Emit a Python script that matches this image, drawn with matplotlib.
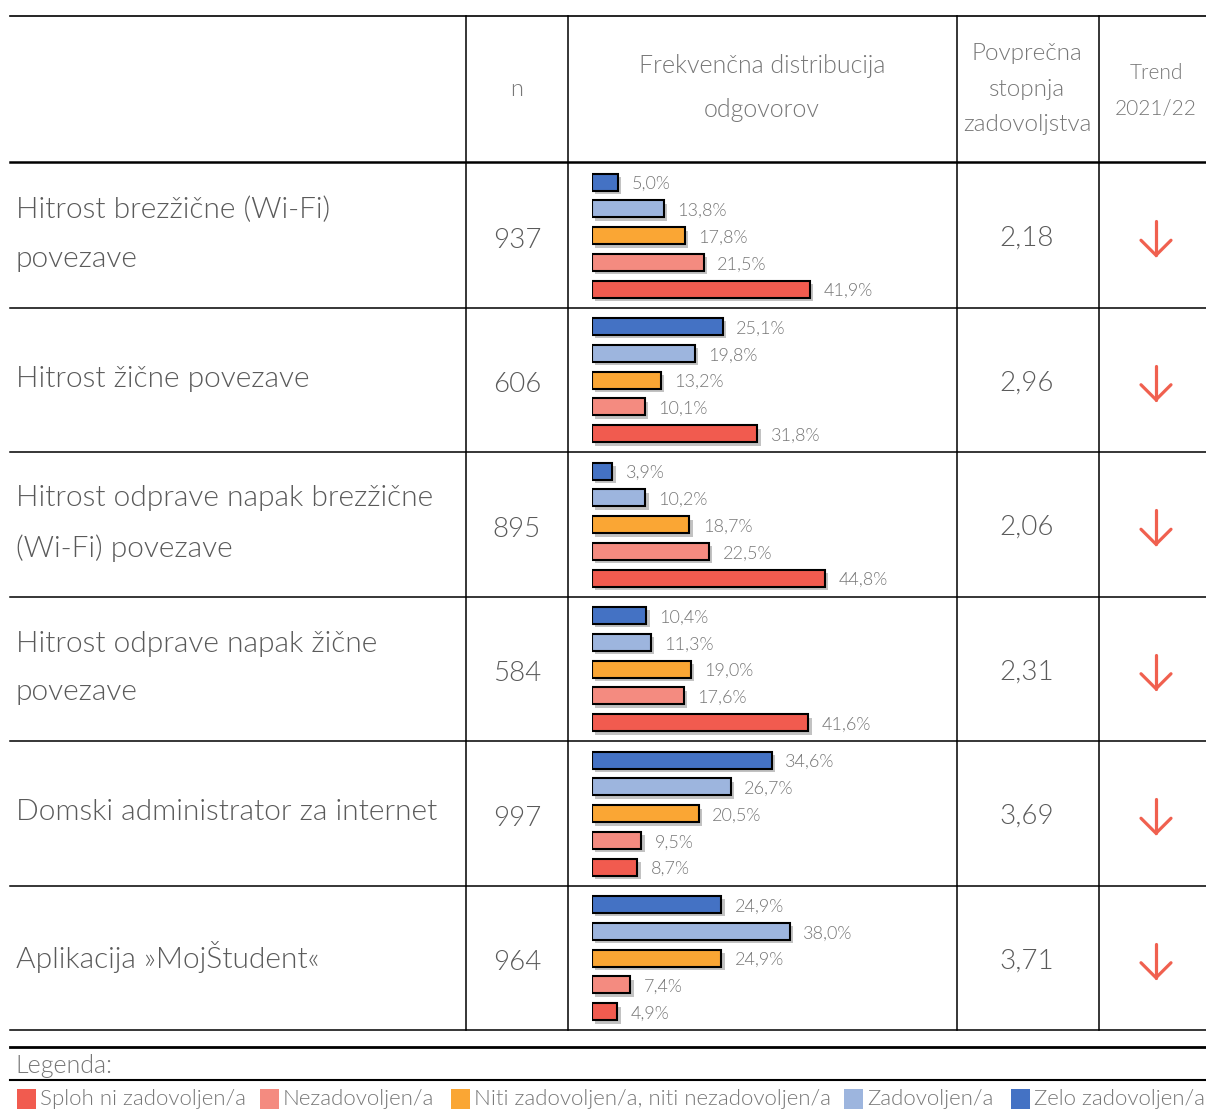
import matplotlib.pyplot as plt
import matplotlib.patheffects as pe

plt.rcParams['font.family'] = ['Lato', 'DejaVu Sans']
plt.rcParams['font.weight'] = 300

# podatki
postavke = ['Hitrost brezžične (Wi-Fi)\npovezave',
            'Hitrost žične povezave',
            'Hitrost odprave napak brezžične\n(Wi-Fi) povezave',
            'Hitrost odprave napak žične\npovezave',
            'Domski administrator za internet',
            'Aplikacija »MojŠtudent«']
n_vals = [937, 606, 895, 584, 997, 964]
povprecje = ['2,18', '2,96', '2,06', '2,31', '3,69', '3,71']
# odstotki po kategorijah: zelo zadovoljen, zadovoljen, niti-niti, nezadovoljen, sploh ni
zelo = [5.0, 25.1, 3.9, 10.4, 34.6, 24.9]
zadovoljen = [13.8, 19.8, 10.2, 11.3, 26.7, 38.0]
niti = [17.8, 13.2, 18.7, 19.0, 20.5, 24.9]
nezadovoljen = [21.5, 10.1, 22.5, 17.6, 9.5, 7.4]
sploh_ni = [41.9, 31.8, 44.8, 41.6, 8.7, 4.9]

serije = [zelo, zadovoljen, niti, nezadovoljen, sploh_ni]
barve = ['#4472C4', '#9DB5DE', '#FAA634', '#F48B80', '#F15B4F']
legenda = ['Sploh ni zadovoljen/a', 'Nezadovoljen/a',
           'Niti zadovoljen/a, niti nezadovoljen/a', 'Zadovoljen/a', 'Zelo zadovoljen/a']
legenda_barve = barve[::-1]

W, H = 1206, 1109
fig = plt.figure(figsize=(W / 100, H / 100), dpi=100)
ax = fig.add_axes([0, 0, 1, 1])
ax.set_xlim(0, W)
ax.set_ylim(H, 0)
ax.axis('off')

siva = '#5a5a5a'
svetlo_siva = '#777777'

# mreža tabele
row_top = 163
row_h = 144.5
ax.plot([10, W], [16, 16], color='black', lw=1.2)
ax.plot([10, W], [162, 162], color='black', lw=1.8)
for i in range(1, 7):
    y = row_top + i * row_h
    ax.plot([10, W], [y, y], color='black', lw=1.1)
for x in [466, 568, 957, 1099]:
    ax.plot([x, x], [16, row_top + 6 * row_h], color='black', lw=1.1)
ax.plot([10, W], [1047, 1047], color='black', lw=2.0)
ax.plot([10, W], [1080, 1080], color='black', lw=1.5)

# glava
ax.text(517, 90, 'n', ha='center', va='center', fontsize=17, color=svetlo_siva)
ax.text(762, 88, 'Frekvenčna distribucija\nodgovorov', ha='center', va='center',
        fontsize=18, color=svetlo_siva, linespacing=2.1)
ax.text(1027, 89, 'Povprečna\nstopnja\nzadovoljstva', ha='center', va='center',
        fontsize=17.5, color=svetlo_siva, linespacing=1.85)
ax.text(1156, 91, 'Trend\n2021/22', ha='center', va='center',
        fontsize=15, color=svetlo_siva, linespacing=2.05)

# vrstice
for i, label in enumerate(postavke):
    yc = row_top + i * row_h + row_h / 2
    ax.text(16, yc - 1, label, ha='left', va='center',
            fontsize=21.5, color=siva, linespacing=2.05)
    ax.text(517, yc + 5, str(n_vals[i]), ha='center', va='center', fontsize=20, color=siva)
    ax.text(1027, yc + 3, povprecje[i], ha='center', va='center', fontsize=20, color=siva)
    # puščica trenda
    ax.plot([1156, 1156], [yc - 14, yc + 20], color='#F0604F', lw=2.3, solid_capstyle='round')
    ax.plot([1141, 1156, 1171], [yc + 5, yc + 20, yc + 5], color='#F0604F', lw=2.3,
            solid_capstyle='round', solid_joinstyle='miter')

# stolpci
bx = fig.add_axes([592 / W, 0, (957 - 592) / W, 1])
bx.set_xlim(0, (957 - 592) / 5.2)
bx.set_ylim(H, 0)
bx.axis('off')
senca = [pe.SimplePatchShadow(offset=(2.5, -2.5), shadow_rgbFace='#9a9a9a', alpha=0.6), pe.Normal()]
for i in range(6):
    top = row_top + i * row_h
    for k, (ser, c) in enumerate(zip(serije, barve)):
        y = top + 19 + k * 26.8
        v = ser[i]
        bar = bx.barh(y, v, height=17, left=0, color=c, edgecolor='black', linewidth=1.5)
        for p in bar:
            p.set_path_effects(senca)
        bx.text(v + 2.6, y + 2, f'{v:.1f}%'.replace('.', ','), ha='left', va='center',
                fontsize=13, color=svetlo_siva)

# legenda
ax.text(15, 1066, 'Legenda:', ha='left', va='center', fontsize=18, color=svetlo_siva)
leg_x = [17, 260, 451, 844, 1011]
for x, txt, c in zip(leg_x, legenda, legenda_barve):
    ax.add_patch(plt.Rectangle((x, 1089), 19, 20, color=c, lw=0))
    ax.text(x + 23, 1099, txt, ha='left', va='center', fontsize=16, color=svetlo_siva)

fig.savefig('out.png', dpi=100)
